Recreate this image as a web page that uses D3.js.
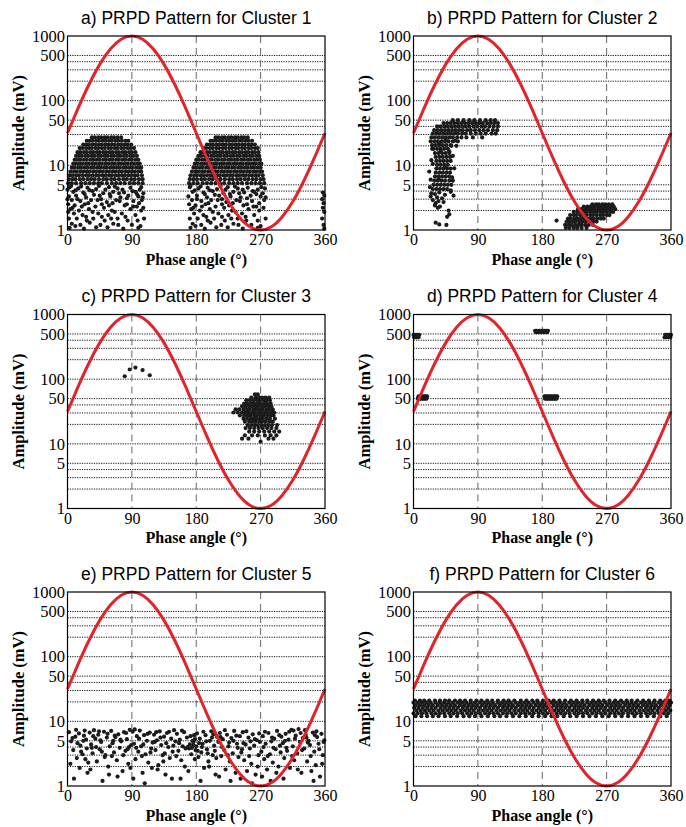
<!DOCTYPE html>
<html>
<head>
<meta charset="utf-8">
<script src="https://cdn.jsdelivr.net/npm/d3@7"></script>
<style>
  body { margin: 0; background: #fff; }
</style>
</head>
<body>
<div id="chart"></div>
<script>
// ---- data ----
const titles = [
  "a) PRPD Pattern for Cluster 1", "b) PRPD Pattern for Cluster 2",
  "c) PRPD Pattern for Cluster 3", "d) PRPD Pattern for Cluster 4",
  "e) PRPD Pattern for Cluster 5", "f) PRPD Pattern for Cluster 6"
];
const phaseTicks = [0, 90, 180, 270, 360];
const ampTicks = [1, 5, 10, 50, 100, 500, 1000];
const gridAmps = [2, 3, 4, 5, 10, 20, 30, 40, 50, 100, 200, 300, 400, 500];
const gridPhases = [90, 180, 270];

// reference sine (phase in degrees, amplitude in mV)
const sinePhase = [0,15,30,45,60,75,90,105,120,135,150,165,180,195,210,225,240,255,270,285,300,315,330,345,360];
const sineAmp = [31.6,77.3,178,364,629,889,1000,889,629,364,178,77.3,31.6,12.9,5.62,2.75,1.59,1.12,1,1.12,1.59,2.75,5.62,12.9,31.6];

// dense parts: [amplitude, [phases]] ; sparse parts: flat [phase, amp, phase, amp, ...]
const c1Rows = [
  [27, [34,38,43,47,52,56,61,65,70,75]],
  [24, [27,31,35,40,44,49,53,58,62,67,71,76,81,85]],
  [21, [22,26,30,35,39,44,48,53,57,62,66,71,75,80,84,89]],
  [18.5, [17,21,26,30,34,39,43,48,52,57,61,66,70,75,79,84,88,93]],
  [16, [14,18,23,27,32,36,41,45,50,54,59,63,68,72,77,81,86,90,95]],
  [14, [12,16,20,25,29,34,38,43,47,52,56,61,65,70,74,79,83,88,92,97]],
  [12.2, [10,14,18,23,27,32,36,41,45,50,54,59,63,68,72,77,81,86,90,95,99]],
  [10.6, [8,12,17,21,26,30,35,39,44,48,53,57,62,66,71,75,80,84,89,93,98,101]],
  [9.2, [6,10,15,19,24,28,33,37,42,46,51,55,60,64,69,73,78,82,87,91,96,100,103]],
  [8, [4,9,13,18,22,27,31,36,40,45,49,54,58,63,67,72,76,81,85,90,94,99,103]],
  [7, [3,7,12,16,21,26,30,35,40,44,49,53,58,62,67,71,76,80,85,89,94,98,104]],
  [6.1, [2,7,11,17,22,28,33,38,44,50,55,61,66,72,78,83,89,94,100,105]],
  [5.3, [1,6,12,19,25,31,37,43,48,55,62,68,74,80,87,93,99,105]],
  [27, [207,211,216,220,225,229,234,238,243,247,252]],
  [24, [200,204,208,213,217,222,226,231,235,240,244,249,253,258]],
  [21, [195,199,203,208,212,217,221,226,230,235,239,244,248,253,257,262]],
  [18.5, [190,194,199,203,208,212,217,221,226,230,235,239,244,248,253,257,262,266]],
  [16, [186,190,195,199,204,208,213,217,222,226,231,235,240,244,249,253,258,262,267]],
  [14, [183,187,192,196,201,205,210,214,219,223,228,232,237,241,246,250,255,259,264,268]],
  [12.2, [180,184,189,193,198,202,207,211,216,220,225,229,234,238,243,247,252,256,261,265,269]],
  [10.6, [178,182,187,191,196,200,205,209,214,218,223,227,232,236,241,245,250,254,259,263,268,271]],
  [9.2, [176,180,185,189,194,198,203,207,212,216,221,225,230,234,239,243,248,252,257,261,266,270]],
  [8, [174,179,183,188,192,197,201,206,210,215,219,224,228,233,237,242,246,251,255,260,264,269,272]],
  [7, [172,177,181,186,190,195,200,204,209,213,218,222,227,231,236,240,245,249,254,258,263,267,273]],
  [6.1, [171,176,181,187,192,198,203,209,214,220,226,231,237,242,248,253,259,264,270,274]],
  [5.3, [170,176,182,189,195,201,207,213,219,226,232,238,244,251,257,263,269,275]]
];
const c1Pts = [
  3,4.6, 15,4.4, 28,4.5, 40,4.3, 58,4.6, 70,4.4, 88,4.5, 101,4.2,
  8,3.9, 22,3.8, 35,4, 50,3.7, 64,3.9, 79,3.8, 95,3.9, 106,3.7,
  2,3.3, 12,3.4, 26,3.2, 45,3.4, 60,3.3, 74,3.2, 85,3.4, 99,3.3,
  6,2.9, 18,2.8, 33,2.9, 55,2.7, 68,2.9, 92,2.8, 104,2.9,
  1,2.5, 10,2.4, 24,2.5, 39,2.3, 48,2.5, 80,2.4, 97,2.3,
  4,2.1, 16,2, 30,2.1, 62,2, 88,2.1, 103,2,
  9,1.8, 21,1.7, 43,1.8, 57,1.7, 76,1.8, 95,1.7,
  2,1.5, 13,1.5, 27,1.4, 36,1.5, 52,1.4, 70,1.5, 84,1.4, 107,1.5,
  6,1.25, 18,1.2, 31,1.3, 46,1.2, 64,1.25, 90,1.2,
  3,1.08, 23,1.05, 40,1.1, 78,1.05, 99,1.08,
  5,4.8, 11,4.1, 19,4.7, 24,3.6, 31,4.1, 37,3.5, 44,4.8, 47,3.0, 53,4.2, 59,3.6,
  66,4.7, 72,3.7, 77,4.2, 83,3.1, 91,4.0, 97,3.6, 103,4.6, 105,3.2, 14,3.0, 29,2.6,
  42,2.9, 51,2.2, 63,2.6, 73,2.8, 83,2.5, 100,2.6, 7,2.2, 20,2.3, 35,1.9, 58,2.4,
  66,1.9, 92,2.3, 106,2.2, 26,1.6, 48,1.6, 61,1.5, 81,1.6, 98,1.4, 11,1.15, 56,1.1,
  71,1.2, 102,1.15, 1,1.9, 0,3.0, 0,4.2,
  171,4.6, 183,4.4, 196,4.5, 209,4.3, 224,4.6, 238,4.4, 252,4.5, 266,4.2, 276,4.4,
  175,3.9, 190,3.8, 203,4, 218,3.7, 232,3.9, 247,3.8, 261,3.9, 273,3.7,
  169,3.3, 181,3.4, 195,3.2, 212,3.4, 228,3.3, 242,3.2, 256,3.4, 270,3.3,
  174,2.9, 187,2.8, 201,2.9, 222,2.7, 236,2.9, 258,2.8, 275,2.9,
  170,2.5, 179,2.4, 193,2.5, 207,2.3, 216,2.5, 246,2.4, 264,2.3,
  173,2.1, 185,2, 199,2.1, 230,2, 253,2.1, 268,2,
  177,1.8, 190,1.7, 211,1.8, 225,1.7, 244,1.8, 261,1.7,
  171,1.5, 182,1.5, 196,1.4, 205,1.5, 220,1.4, 238,1.5, 250,1.4, 277,1.5,
  175,1.25, 187,1.2, 200,1.3, 215,1.2, 232,1.25, 257,1.2,
  172,1.08, 192,1.05, 208,1.1, 245,1.05, 266,1.08,
  172,4.8, 178,4.1, 186,4.7, 192,3.6, 199,4.1, 206,3.5, 214,4.8, 216,3.0, 221,4.2, 227,3.6,
  234,4.7, 240,3.7, 245,4.2, 251,3.1, 259,4.0, 264,3.6, 271,4.6, 277,3.2, 181,3.0, 197,2.6,
  210,2.9, 219,2.2, 231,2.6, 241,2.8, 251,2.5, 268,2.6, 176,2.2, 188,2.3, 203,1.9, 226,2.4,
  235,1.9, 260,2.3, 274,2.2, 194,1.6, 216,1.6, 229,1.5, 249,1.6, 266,1.4, 179,1.15, 224,1.1,
  239,1.2, 270,1.15,
  357,3.8, 359,3.4, 356,3.0, 358,2.6, 357,2.2, 359,1.9, 356,1.5, 358,1.2, 359,1.05
];

const c2Rows = [
  [50, [55,62,70,78,85,93,101,108,114]],
  [45, [42,47,52,57,62,67,72,77,82,87,92,97,103,108,113,118]],
  [40, [33,38,43,48,53,58,63,68,73,78,84,89,95,100,106,112,118]],
  [35, [29,34,39,44,49,54,59,64,69,75,80,86,92,98,104,111,117]],
  [31, [27,32,37,42,47,52,57,62,68,73,80,87,94,101,109,115]],
  [27, [25,30,35,40,45,50,55,61,67,74,83,96]],
  [23.5, [24,29,34,39,44,49,55,62]],
  [20.5, [26,31,36,41,46,52]],
  [18, [28,33,38,43,48]],
  [15.5, [30,35,40,45,50]],
  [13.5, [31,36,41,46,51]],
  [11.7, [32,37,42,47,52]],
  [10.2, [33,38,43,48]],
  [8.9, [32,37,42,47,52]],
  [7.7, [31,36,41,46,51]],
  [6.7, [30,35,40,45,50]],
  [5.8, [29,34,39,44,50,55]],
  [5, [28,33,38,43,48,53]],
  [4.3, [27,32,37,42,47]],
  [2.5, [250,255,259,264,268,273,278]],
  [2.3, [238,243,247,252,257,261,266,270,275,280]],
  [2.1, [230,235,240,244,249,253,258,263,267,272,277,282]],
  [1.9, [224,229,233,238,242,247,252,256,261,265,270,275,279]],
  [1.7, [219,224,228,233,237,242,247,251,256,261,265,270,274]],
  [1.5, [216,220,225,229,234,238,243,248,252,257,262,266]],
  [1.35, [214,218,223,227,232,236,241,246,251,256]],
  [1.2, [212,217,221,226,231,235,240,245,251]],
  [1.08, [213,218,224,229,235,242]]
];
const c2Pts = [
  25,3.7, 30,3.6, 36,3.8, 44,3.5, 52,3.9, 24,3.3, 33,3.2, 40,3.1, 56,3.4,
  27,2.9, 35,2.8, 42,2.7, 31,2.6, 30,2.4, 37,2.3, 34,2.2, 49,2.0, 50,1.75,
  47,1.6, 31,1.3, 36,1.22, 46,1.2, 200,1.4,
  22,8, 25,12, 55,14, 57,9, 24,6, 54,6.5, 26,18, 53,20, 23,4.6, 52,4.1,
  45,25, 36,22, 58,24, 60,20, 27,10.5, 50,16.5, 44,9.5, 38,17, 35,6.2
];

const c3Rows = [
  [58, [262,266]],
  [52, [257,263,268,272,277,282]],
  [47, [250,255,260,265,269,274,278,283]],
  [42, [247,252,257,261,266,270,275,279,284]],
  [38, [244,249,254,258,263,267,272,276,281,285]],
  [34, [235,240,246,251,255,260,264,269,273,278,282,287]],
  [30.5, [232,238,244,249,253,258,262,267,271,276,280,285,289]],
  [27.5, [241,247,252,256,261,265,270,274,279,284,288]],
  [24.5, [246,251,256,260,264,269,273,278,283,290]],
  [22, [248,254,259,263,268,272,277,282,287]],
  [19.5, [252,257,262,266,271,276,281,286,293]],
  [17.5, [249,255,261,267,273,279,285,292]],
  [15.5, [254,261,268,275,282,289,296]],
  [13.5, [248,258,266,276,284,292]],
  [12, [244,253,281,288]]
];
const c3Pts = [80,111, 87,141, 95,151, 105,138, 115,115, 270,10.8];

const c4Rows = [
  [485, [0,2,4,6,8]],
  [445, [1,3,5,7]],
  [560, [170,172,174,176,178,180,182,184,186,188]],
  [535, [171,173,175,177,179,181,183,185,187]],
  [485, [352,354,356,358,360]],
  [445, [351,353,355,357,359]],
  [54, [7,9,11,13,15,17,19]],
  [50, [6,8,10,12,14,16,18]],
  [54, [183,185,187,189,191,193,195,197,199,201]],
  [50, [184,186,188,190,192,194,196,198,200]]
];
const c4Pts = [];

const c5Rows = [];
const c5Pts = [
  2,6.8, 5,4.9, 8,3.6, 11,5.8, 13,2.7, 16,6.5, 18,4.2, 21,3.1, 24,7.2, 26,5.2, 28,1.6, 4,2.2, 9,1.3, 14,4.6, 19,3.4, 23,6.0, 27,3.8, 29,2.3, 7,5.5, 12,7.4, 17,1.9, 22,5.0, 25,2.6,
  31,6.7, 33,4.4, 35,3.2, 37,7.3, 39,5.4, 41,2.4, 43,6.2, 45,3.7, 47,4.8, 49,1.2, 51,6.9, 53,3.0, 55,5.6, 57,2.0, 59,4.1, 32,1.8, 36,5.9, 40,4.0, 44,7.0, 48,3.4, 52,2.8, 56,6.4, 58,1.5, 34,3.9, 46,5.1,
  61,7.1, 63,4.6, 65,3.3, 67,5.7, 69,2.5, 71,6.3, 73,3.9, 75,4.9, 77,1.7, 79,6.8, 81,3.5, 83,5.3, 85,2.2, 87,7.4, 89,4.3, 62,2.9, 66,6.0, 70,1.4, 74,5.2, 78,3.0, 82,6.6, 86,4.0, 88,1.9, 64,5.0, 84,3.7,
  91,6.9, 93,4.5, 95,2.6, 97,5.9, 99,3.4, 101,7.2, 103,4.1, 105,1.6, 107,6.1, 109,3.1, 111,5.0, 113,2.3, 115,6.7, 117,3.8, 119,4.7, 92,1.3, 96,3.9, 100,5.4, 104,2.9, 108,1.1, 112,6.4, 116,3.3, 118,1.9, 94,7.5, 106,4.4,
  121,6.2, 123,3.6, 125,5.1, 127,2.1, 129,7.0, 131,4.3, 133,3.0, 135,5.8, 137,1.5, 139,6.6, 141,4.0, 143,2.7, 145,5.4, 147,3.4, 149,7.3, 122,4.8, 126,1.8, 130,5.6, 134,2.4, 138,4.6, 142,6.9, 146,1.3, 148,4.2, 124,6.8, 136,3.2,
  151,4.9, 153,6.4, 155,3.5, 157,5.2, 159,2.5, 161,4.1, 163,6.8, 165,3.8, 167,5.6, 169,1.7, 171,4.4, 173,3.1, 175,5.0, 177,6.1, 179,3.6, 152,2.9, 156,4.6, 160,7.2, 164,2.0, 168,4.0, 172,5.9, 176,4.3, 178,2.6, 158,1.3, 174,3.9,
  170,3.8, 176,4.8, 180,4.1, 182,3.5, 178,5.3, 184,4.6,
  181,6.5, 183,2.8, 185,5.4, 187,3.3, 189,4.5, 191,1.9, 193,6.1, 195,3.7, 197,2.4, 199,5.0, 201,7.0, 203,3.0, 205,4.2, 207,1.5, 209,5.8, 186,1.2, 190,6.9, 194,4.9, 198,2.0, 202,5.6, 206,3.5, 188,4.0, 196,3.2, 204,6.3, 208,2.7,
  211,4.8, 213,6.6, 215,2.9, 217,5.3, 219,3.6, 221,1.8, 223,6.2, 225,4.1, 227,2.4, 229,5.5, 231,3.2, 233,7.1, 235,1.6, 237,4.5, 239,2.8, 212,1.4, 216,4.0, 220,7.3, 224,3.0, 228,1.2, 232,5.0, 236,6.0, 238,3.9, 214,5.7, 226,4.7,
  241,5.9, 243,3.3, 245,6.8, 247,2.5, 249,4.4, 251,1.7, 253,5.6, 255,3.8, 257,2.2, 259,6.3, 261,4.2, 263,1.5, 265,5.1, 267,3.0, 269,4.8, 242,1.3, 246,4.6, 250,7.0, 254,2.9, 258,1.1, 262,5.3, 266,2.0, 268,6.5, 244,3.7, 256,4.9,
  271,3.4, 273,5.9, 275,2.6, 277,4.5, 279,1.8, 281,6.6, 283,3.1, 285,4.9, 287,2.3, 289,5.4, 291,3.7, 293,7.1, 295,2.0, 297,4.2, 299,5.8, 272,1.4, 276,6.9, 280,2.9, 284,1.2, 288,3.9, 292,1.6, 296,6.1, 298,3.3, 274,4.0, 286,5.6,
  301,4.6, 303,2.7, 305,6.4, 307,3.5, 309,5.2, 311,1.9, 313,7.4, 315,4.1, 317,2.5, 319,6.0, 321,3.2, 323,7.6, 325,4.8, 327,1.6, 329,5.5, 302,1.3, 306,3.9, 310,6.9, 314,2.9, 318,5.4, 322,1.8, 326,6.6, 328,3.6, 304,5.0, 316,7.2,
  331,3.8, 333,6.2, 335,2.4, 337,5.0, 339,4.3, 341,1.7, 343,6.7, 345,3.4, 347,2.1, 349,5.7, 351,4.5, 353,1.4, 355,6.4, 357,3.0, 359,5.1, 332,7.3, 336,4.7, 340,2.9, 344,1.2, 348,7.0, 352,3.7, 356,2.2, 358,4.8, 334,5.6, 346,6.1
];

const c6Rows = [
  [21, [2,9,15,22,30,37,44,50,58,65,72,80,88,95,103,110,118,126,133,141,150,158,166,173,181,189,196,204,212,220,228,236,243,251,259,266,274,282,290,298,305,313,321,329,337,345,352,358]],
  [19.5, [0,6,12,18,24,31,37,43,49,55,62,68,74,80,86,93,99,105,111,118,124,130,136,143,149,155,161,168,174,180,186,193,199,205,211,218,224,230,236,243,249,255,261,268,274,280,286,293,299,305,311,318,324,330,336,343,349,355,360]],
  [17.8, [3,9,15,21,27,34,40,46,52,58,65,71,77,83,89,96,102,108,114,121,127,133,139,146,152,158,164,171,177,183,189,196,202,208,214,221,227,233,239,246,252,258,264,271,277,283,289,296,302,308,314,321,327,333,339,346,352,358]],
  [16.2, [1,7,13,19,25,31,38,44,50,56,62,69,75,81,87,93,100,106,112,118,125,131,137,143,150,156,162,168,175,181,187,193,200,206,212,218,225,231,237,243,250,256,262,268,275,281,287,293,300,306,312,318,325,331,337,343,350,356]],
  [14.7, [4,10,16,22,28,35,41,47,53,59,66,72,78,84,91,97,103,109,116,122,128,134,141,147,153,159,166,172,178,184,191,197,203,209,216,222,228,234,241,247,253,259,266,272,278,284,291,297,303,309,316,322,328,334,341,347,353,359]],
  [13.3, [0,6,12,18,25,31,37,43,50,56,62,68,75,81,87,93,100,106,112,118,125,131,137,143,150,156,162,168,175,181,187,193,200,206,212,218,225,231,237,243,250,256,262,268,275,281,287,293,300,306,312,318,325,331,337,343,350,356]],
  [12, [3,11,19,27,35,44,52,61,70,78,86,95,104,113,121,130,139,148,157,166,175,184,193,201,210,219,228,237,246,255,264,273,282,291,300,309,318,327,336,345,354]]
];
const c6Pts = [];

// ---- layout ----
const W = 686, H = 827;
const colLeft = [67.5, 413.5];
const rowTop = [36, 314.5, 592];
const plotW = 257.5, plotH = 194;
const serif = "'Liberation Serif', 'Times New Roman', serif";
const sans = "'Liberation Sans', Arial, Helvetica, sans-serif";

function toPoints(rows, flat) {
  const out = [];
  rows.forEach(r => r[1].forEach(p => out.push({p: p, a: r[0]})));
  for (let i = 0; i < flat.length; i += 2) out.push({p: flat[i], a: flat[i + 1]});
  return out;
}

const sine = sinePhase.map((p, i) => ({p: p, a: sineAmp[i]}));

const panels = [
  {title: titles[0], col: 0, row: 0, pts: toPoints(c1Rows, c1Pts)},
  {title: titles[1], col: 1, row: 0, pts: toPoints(c2Rows, c2Pts)},
  {title: titles[2], col: 0, row: 1, pts: toPoints(c3Rows, c3Pts)},
  {title: titles[3], col: 1, row: 1, pts: toPoints(c4Rows, c4Pts)},
  {title: titles[4], col: 0, row: 2, pts: toPoints(c5Rows, c5Pts)},
  {title: titles[5], col: 1, row: 2, pts: toPoints(c6Rows, c6Pts)}
];

const svg = d3.select('#chart').append('svg')
  .attr('width', W)
  .attr('height', H)
  .style('background', '#fff');

panels.forEach(pn => {
  const g = svg.append('g')
    .attr('transform', `translate(${colLeft[pn.col]},${rowTop[pn.row]})`);

  const x = d3.scaleLinear().domain([0, 360]).range([0, plotW]);
  const y = d3.scaleLog().domain([1, 1000]).range([plotH, 0]);

  // dotted horizontal grid
  g.selectAll('line.hgrid')
    .data(gridAmps)
    .enter().append('line')
    .attr('class', 'hgrid')
    .attr('x1', 0).attr('x2', plotW)
    .attr('y1', d => y(d)).attr('y2', d => y(d))
    .attr('stroke', '#111')
    .attr('stroke-width', 1)
    .attr('stroke-dasharray', '1.2,1.2');

  // dashed vertical grid
  g.selectAll('line.vgrid')
    .data(gridPhases)
    .enter().append('line')
    .attr('class', 'vgrid')
    .attr('x1', d => x(d)).attr('x2', d => x(d))
    .attr('y1', 0).attr('y2', plotH)
    .attr('stroke', '#666')
    .attr('stroke-width', 1)
    .attr('stroke-dasharray', '7,5');

  // PD pulses
  g.selectAll('circle.pd')
    .data(pn.pts)
    .enter().append('circle')
    .attr('class', 'pd')
    .attr('cx', d => x(d.p))
    .attr('cy', d => y(d.a))
    .attr('r', 2.1)
    .attr('fill', '#1b1b1b');

  // reference sine
  const line = d3.line()
    .x(d => x(d.p))
    .y(d => y(d.a))
    .curve(d3.curveNatural);
  g.append('path')
    .datum(sine)
    .attr('d', line)
    .attr('fill', 'none')
    .attr('stroke', '#e0242b')
    .attr('stroke-width', 3);

  // frame
  g.append('rect')
    .attr('width', plotW).attr('height', plotH)
    .attr('fill', 'none')
    .attr('stroke', '#000')
    .attr('stroke-width', 1.2);

  // axes
  const xAxis = g.append('g')
    .attr('transform', `translate(0,${plotH})`)
    .call(d3.axisBottom(x).tickValues(phaseTicks).tickSize(0).tickPadding(4));
  xAxis.select('.domain').remove();
  xAxis.selectAll('text')
    .attr('font-family', serif)
    .attr('font-size', 16)
    .attr('fill', '#000');

  const yAxis = g.append('g')
    .call(d3.axisLeft(y).tickValues(ampTicks).tickFormat(d3.format('d')).tickSize(0).tickPadding(2.5));
  yAxis.select('.domain').remove();
  yAxis.selectAll('text')
    .attr('font-family', serif)
    .attr('font-size', 16.5)
    .attr('fill', '#000');

  // labels
  g.append('text')
    .attr('x', plotW / 2)
    .attr('y', -12.5)
    .attr('text-anchor', 'middle')
    .attr('font-family', sans)
    .attr('font-size', 17.5)
    .attr('fill', '#000')
    .text(pn.title);

  g.append('text')
    .attr('x', plotW / 2)
    .attr('y', plotH + 34.5)
    .attr('text-anchor', 'middle')
    .attr('font-family', serif)
    .attr('font-weight', 'bold')
    .attr('font-size', 16)
    .attr('fill', '#000')
    .text('Phase angle (°)');

  g.append('text')
    .attr('transform', `translate(-43.5,${plotH / 2}) rotate(-90)`)
    .attr('text-anchor', 'middle')
    .attr('font-family', serif)
    .attr('font-weight', 'bold')
    .attr('font-size', 16.5)
    .attr('fill', '#000')
    .text('Amplitude (mV)');
});
</script>
</body>
</html>
